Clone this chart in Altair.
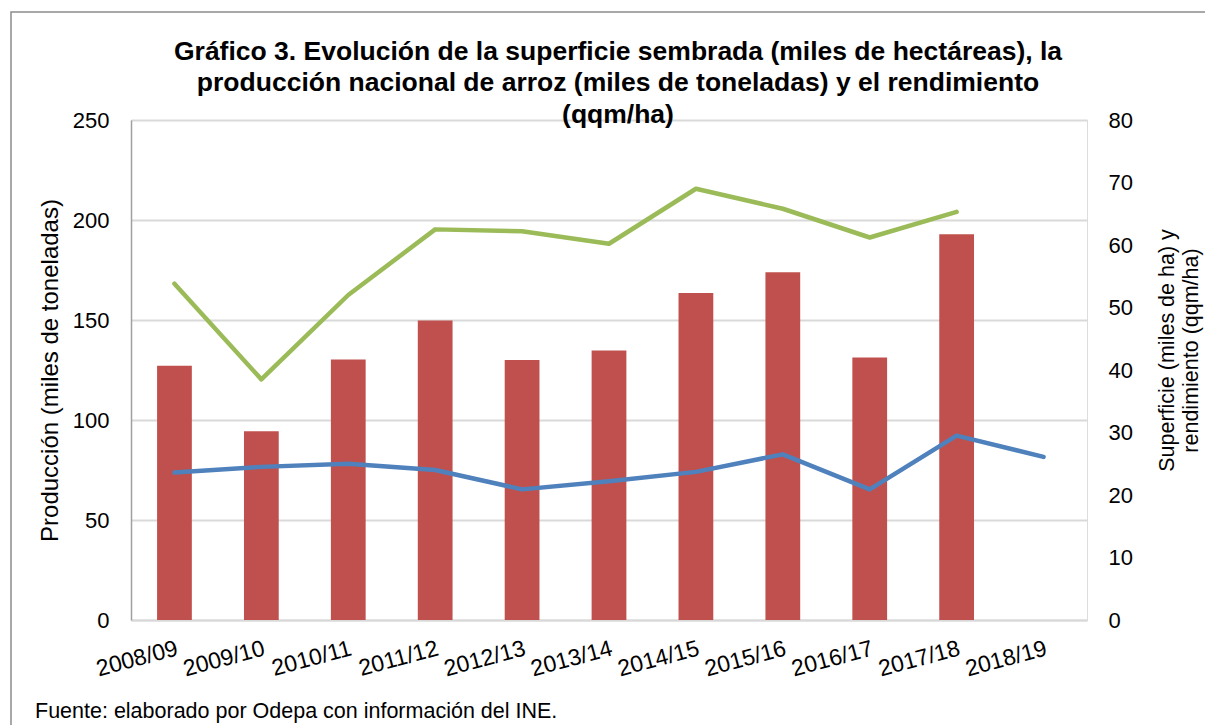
import altair as alt
import pandas as pd

# ---- data ----
seasons = ["2008/09", "2009/10", "2010/11", "2011/12", "2012/13", "2013/14",
           "2014/15", "2015/16", "2016/17", "2017/18", "2018/19"]
produccion = [127.1, 94.4, 130.2, 149.7, 130.0, 134.7, 163.5, 173.9, 131.3, 192.9, None]
rendimiento = [53.8, 38.5, 52.0, 62.5, 62.2, 60.2, 69.0, 65.8, 61.2, 65.3, None]
superficie = [23.6, 24.5, 25.0, 24.0, 20.9, 22.2, 23.7, 26.5, 20.9, 29.5, 26.1]

title_lines = [
    "Gráfico 3. Evolución de la superficie sembrada (miles de hectáreas), la",
    "producción nacional de arroz (miles de toneladas) y el rendimiento",
    "(qqm/ha)",
]
left_title = "Producción (miles de toneladas)"
right_title = ["Superficie (miles de ha) y", "rendimiento (qqm/ha)"]
footnote = "Fuente: elaborado por Odepa con información del INE."

FONT = "Liberation Sans"
W, H = 956, 500

bars_df = pd.DataFrame({"temporada": seasons, "produccion": produccion})
lines_df = pd.concat([
    pd.DataFrame({"temporada": seasons, "serie": "Rendimiento", "valor": rendimiento}),
    pd.DataFrame({"temporada": seasons, "serie": "Superficie", "valor": superficie}),
]).dropna()

x_enc = alt.X(
    "temporada:N", sort=seasons, title=None,
    scale=alt.Scale(paddingInner=0.6, paddingOuter=0.3),
    axis=alt.Axis(labelAngle=345, labelAlign="right", labelBaseline="top",
                  labelFontSize=23, labelPadding=17, ticks=False,
                  domainColor="#D9D9D9", domainWidth=2, labelColor="#000000",
                  labelFont=FONT),
)

bars = alt.Chart(bars_df).mark_bar(color="#C0504D").encode(
    x=x_enc,
    y=alt.Y("produccion:Q",
            scale=alt.Scale(domain=[0, 250], nice=False),
            axis=alt.Axis(values=[0, 50, 100, 150, 200, 250], grid=True,
                          gridColor="#D9D9D9", gridWidth=2, ticks=False,
                          domain=True, domainColor="#A0A0A0", domainWidth=1.5,
                          labelFontSize=22, labelPadding=22, labelFont=FONT,
                          labelColor="#000000",
                          title=left_title, titleFontSize=24,
                          titleFontWeight="normal", titleFont=FONT,
                          titleColor="#000000", titleAngle=270,
                          titleX=-81, titleY=250, titleAlign="center",
                          titleBaseline="middle")),
)

lines = alt.Chart(lines_df).mark_line(strokeWidth=4.5, strokeCap="round",
                                      strokeJoin="round").encode(
    x=alt.X("temporada:N", sort=seasons),
    y=alt.Y("valor:Q",
            scale=alt.Scale(domain=[0, 80], nice=False),
            axis=alt.Axis(orient="right", values=list(range(0, 81, 10)),
                          grid=False, ticks=False, domain=False,
                          labelFontSize=22, labelPadding=21, labelFont=FONT,
                          labelColor="#000000",
                          title=right_title, titleFontSize=21.5,
                          titleFontWeight="normal", titleFont=FONT,
                          titleColor="#000000", titleAngle=270,
                          titleX=80, titleY=230, titleAlign="center",
                          titleBaseline="middle", titleLineHeight=24)),
    color=alt.Color("serie:N",
                    scale=alt.Scale(domain=["Rendimiento", "Superficie"],
                                    range=["#9BBB59", "#4F81BD"]),
                    legend=None),
)

note = alt.Chart(pd.DataFrame({"t": [footnote]})).mark_text(
    align="left", baseline="alphabetic", fontSize=21.5, font=FONT, color="#000000"
).encode(text="t:N", x=alt.value(-96), y=alt.value(598))

frame = alt.Chart(pd.DataFrame({"k": [0]})).mark_rect(
    filled=False, stroke="#8C8C8C", strokeWidth=1.5
).encode(x=alt.value(-120), x2=alt.value(1400),
         y=alt.value(-108), y2=alt.value(900))

chart = alt.layer(frame, bars, lines, note).resolve_scale(
    y="independent"
).properties(
    width=W, height=H,
    autosize=alt.AutoSizeParams(type="none"),
    padding={"left": 123, "top": 112, "right": 118, "bottom": 105},
    title=alt.TitleParams(title_lines, fontSize=26.5, fontWeight="bold", font=FONT,
                          color="#000000", anchor="middle", dx=9,
                          lineHeight=31.5, offset=-117),
).configure_view(stroke=None).configure(background="white")

chart.save("out.html", embed_options={"renderer": "svg", "actions": False})
